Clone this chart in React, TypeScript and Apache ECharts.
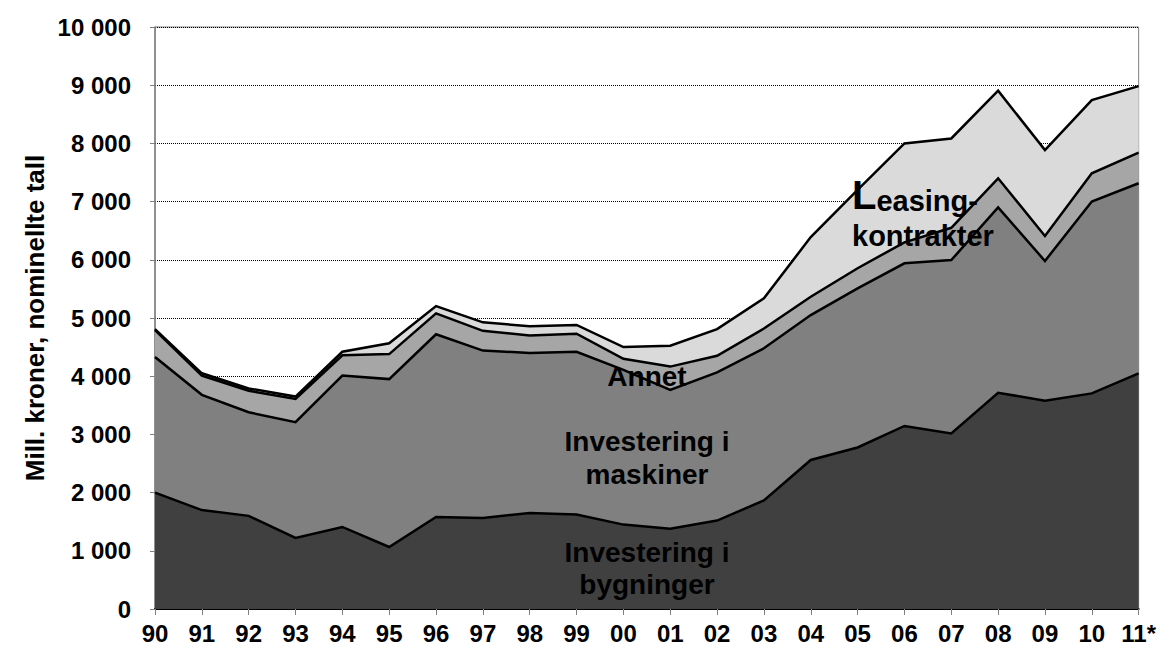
import React, { useEffect, useRef } from "react";
import * as echarts from "echarts";

const years = ["90","91","92","93","94","95","96","97","98","99","00","01","02","03","04","05","06","07","08","09","10","11*"];
const bygninger = [2000,1700,1600,1220,1410,1065,1580,1565,1650,1625,1450,1380,1520,1865,2560,2775,3145,3015,3715,3580,3705,4050];
const maskiner = [2330,1980,1780,1990,2600,2885,3140,2875,2750,2795,2660,2385,2545,2615,2490,2735,2795,2980,3185,2400,3295,3265];
const annet = [460,330,370,400,350,430,360,340,300,310,190,400,285,340,315,345,360,555,500,430,485,525];
const leasing = [20,40,40,40,60,185,125,145,160,150,200,360,460,520,1025,1345,1700,1535,1505,1475,1260,1145];

const seriesNames = ["Investering i bygninger", "Investering i maskiner", "Annet", "Leasingkontrakter"];
const seriesData = [bygninger, maskiner, annet, leasing];
const fills = ["#404040", "#808080", "#a6a6a6", "#dadada"];

const FONT = "'Liberation Sans', Arial, sans-serif";

export default function App() {
  const ref = useRef<HTMLDivElement>(null);
  useEffect(() => {
    if (!ref.current) return;
    const chart = echarts.init(ref.current, null, { renderer: "svg" });
    const areaSeries = seriesData.map((d, i) => ({
      name: seriesNames[i],
      type: "line",
      stack: "area",
      data: d,
      symbol: "none",
      z: 2,
      lineStyle: { width: 0 },
      areaStyle: { color: fills[i], opacity: 1 },
      silent: true,
    }));
    const lineSeries = seriesData.map((d, i) => ({
      name: seriesNames[i] + " line",
      type: "line",
      stack: "lines",
      data: d,
      symbol: "none",
      z: 3,
      lineStyle: { color: "#000", width: 2.5, join: "miter" },
      silent: true,
    }));
    const labelStyle = { fontFamily: FONT, fontWeight: "bold", fill: "#000" };
    chart.setOption({
      animation: false,
      backgroundColor: "#fff",
      grid: { left: 155, right: 20, top: 27, bottom: 44, show: true, borderColor: "#808080", borderWidth: 1, backgroundColor: "transparent" },
      xAxis: {
        type: "category",
        data: years,
        boundaryGap: false,
        axisLine: { lineStyle: { color: "#000", width: 2 } },
        axisTick: { show: true, length: 6, lineStyle: { color: "#808080" } },
        axisLabel: { color: "#000", fontFamily: FONT, fontWeight: "bold", fontSize: 24, margin: 12, interval: 0 },
        splitLine: { show: false },
      },
      yAxis: {
        type: "value",
        min: 0,
        max: 10000,
        interval: 1000,
        axisLine: { show: true, lineStyle: { color: "#808080", width: 1.5 } },
        axisTick: { show: true, length: 5, lineStyle: { color: "#808080" } },
        axisLabel: {
          color: "#000", fontFamily: FONT, fontWeight: "bold", fontSize: 24, margin: 24,
          formatter: (v: number) => String(v).replace(/\B(?=(\d{3})+(?!\d))/g, " "),
        },
        splitLine: { show: true, lineStyle: { color: "#000", type: "dotted", width: 1 } },
      },
      series: [...areaSeries, ...lineSeries],
      graphic: [
        { type: "text", x: 35, y: 318, rotation: Math.PI / 2, z: 10,
          style: { ...labelStyle, text: "Mill. kroner, nominellte tall", fontSize: 26, align: "center", verticalAlign: "middle" } },
        { type: "text", x: 647, y: 376, z: 10,
          style: { ...labelStyle, text: "Annet", fontSize: 28, align: "center", verticalAlign: "middle" } },
        { type: "text", x: 647, y: 458, z: 10,
          style: { ...labelStyle, text: "Investering i\nmaskiner", fontSize: 28, lineHeight: 33, align: "center", verticalAlign: "middle" } },
        { type: "text", x: 647, y: 568, z: 10,
          style: { ...labelStyle, text: "Investering i\nbygninger", fontSize: 28, lineHeight: 32, align: "center", verticalAlign: "middle" } },
        { type: "text", x: 852, y: 180, z: 10,
          style: {
            ...labelStyle,
            text: "{big|L}{n|easing-}\n{n|kontrakter}",
            align: "left", verticalAlign: "top",
            rich: {
              big: { fontFamily: FONT, fontWeight: "bold", fontSize: 40, lineHeight: 35, verticalAlign: "bottom" },
              n: { fontFamily: FONT, fontWeight: "bold", fontSize: 29, lineHeight: 35, verticalAlign: "bottom" },
            },
          } },
      ],
    });
    return () => chart.dispose();
  }, []);
  return <div ref={ref} style={{ position: "absolute", left: 0, top: 0, width: 1159, height: 653 }} />;
}
